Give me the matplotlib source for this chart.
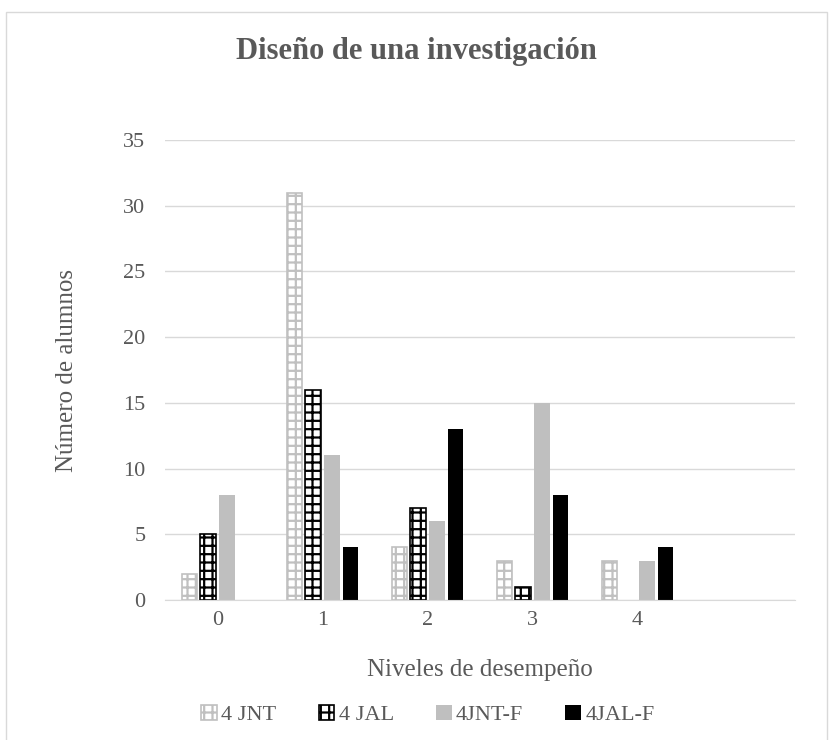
import numpy as np
import matplotlib
matplotlib.use('Agg')
import matplotlib.pyplot as plt
from matplotlib.patches import Rectangle

niveles = ['0', '1', '2', '3', '4', '']
jnt = [2, 31, 4, 3, 3, 0]
jal = [5, 16, 7, 1, 0, 0]
jnt_f = [8, 11, 6, 15, 3, 0]
jal_f = [0, 4, 13, 8, 4, 0]

plt.rcParams['font.family'] = ['Liberation Serif', 'DejaVu Serif']
plt.rcParams['hatch.linewidth'] = 1.6

fig = plt.figure(figsize=(8.33, 7.40), dpi=100)
ax = fig.add_axes([165/833, 1 - 600/740, 630/833, 460/740])

x = np.arange(len(niveles))
w = 0.145
step = 0.18
offs = [-1.5 * step, -0.5 * step, 0.5 * step, 1.5 * step]


def nz(v):
    # zero values are not drawn (no flat bar)
    return [np.nan if val == 0 else val for val in v]


ax.bar(x + offs[0], nz(jnt), w, color='white', edgecolor='#c0c0c0', hatch='++', linewidth=1.2, label='4 JNT')
ax.bar(x + offs[1], nz(jal), w, color='white', edgecolor='black', hatch='++', linewidth=1.2, label='4 JAL')
ax.bar(x + offs[2], nz(jnt_f), w, color='#bfbfbf', label='4JNT-F')
ax.bar(x + offs[3], nz(jal_f), w, color='black', label='4JAL-F')

ax.set_xlim(-0.5, len(niveles) - 0.5)
ax.set_ylim(0, 35)
ax.set_yticks(range(0, 36, 5))
ax.set_xticks(x)
ax.set_xticklabels(niveles)
ax.yaxis.grid(True, color='#d9d9d9', linewidth=1)
ax.set_axisbelow(True)
for s in ['top', 'right', 'left']:
    ax.spines[s].set_visible(False)
ax.spines['bottom'].set_color('#d9d9d9')
ax.tick_params(length=0, labelsize=16, colors='#595959')
ax.tick_params(axis='y', pad=14)
ax.tick_params(axis='x', pad=8)

ax.set_xlabel('Niveles de desempeño', fontsize=18, color='#595959')
ax.set_ylabel('Número de alumnos', fontsize=18, color='#595959')
ax.xaxis.label.set_va('center')
ax.yaxis.label.set_va('center')
ax.xaxis.set_label_coords(0.5, -(670 - 600) / 460)
ax.yaxis.set_label_coords(-(165 - 67) / 630, 0.5)

fig.text(0.5, 1 - 52/740, 'Diseño de una investigación', ha='center', va='center',
         fontsize=22, fontweight='bold', color='#595959')

leg = fig.legend(loc='center', bbox_to_anchor=(428/833, 1 - 715/740), ncol=4, frameon=False,
                 fontsize=16, handlelength=0.7, handleheight=0.7, columnspacing=1.9,
                 handletextpad=0.2)
for t in leg.get_texts():
    t.set_color('#595959')

fig.patches.append(Rectangle((6/833, -0.01), 821/833, 1 - 12/740 + 0.01, transform=fig.transFigure,
                             fill=False, edgecolor='#d9d9d9', linewidth=1))

plt.savefig('out.png', dpi=100)
